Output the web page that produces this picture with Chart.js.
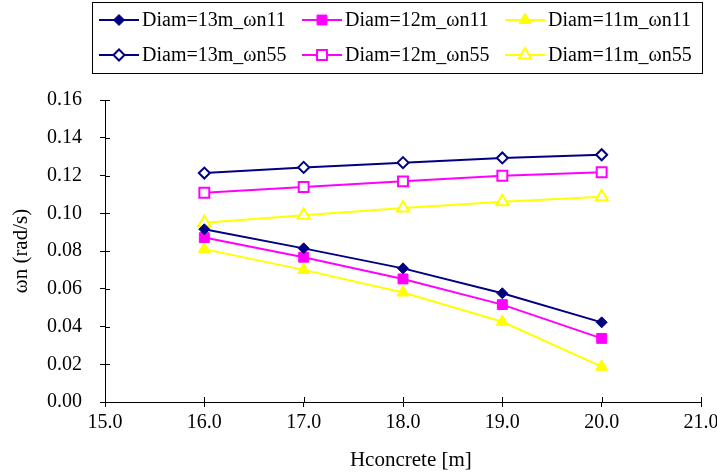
<!DOCTYPE html>
<html>
<head>
<meta charset="utf-8">
<title>ωn vs Hconcrete</title>
<script src="https://cdn.jsdelivr.net/npm/chart.js@4/dist/chart.umd.min.js"></script>
<style>
  html, body { margin: 0; padding: 0; background: #fff; }
  #wrap { width: 717px; height: 476px; }
</style>
</head>
<body>
<div id="wrap"><canvas id="chart" width="717" height="476"></canvas></div>
<script>
// --- Data ---
const heights = [16, 17, 18, 19, 20];
const d13_w11 = [0.0915, 0.0814, 0.0708, 0.0576, 0.0422];
const d12_w11 = [0.0871, 0.0767, 0.0652, 0.0516, 0.0337];
const d11_w11 = [0.0810, 0.0700, 0.0580, 0.0425, 0.0187];
const d13_w55 = [0.1213, 0.1243, 0.1268, 0.1293, 0.1310];
const d12_w55 = [0.1109, 0.1139, 0.1169, 0.1199, 0.1217];
const d11_w55 = [0.0950, 0.0990, 0.1028, 0.1061, 0.1088];

const xTicks = [15, 16, 17, 18, 19, 20, 21];
const yTicks = [0, 0.02, 0.04, 0.06, 0.08, 0.10, 0.12, 0.14, 0.16];

const NAVY = '#000080';
const MAGENTA = '#ff00ff';
const YELLOW = '#ffff00';
const SERIF = '"Liberation Serif", "Times New Roman", serif';

function series(label, values, color, style, radius, hollow) {
    return {
        label: label,
        data: heights.map((h, i) => ({ x: h, y: values[i] })),
        borderColor: color,
        borderWidth: 2,
        pointStyle: style,
        pointRadius: radius,
        pointHoverRadius: radius,
        pointBorderColor: color,
        pointBackgroundColor: hollow ? '#ffffff' : color,
        pointBorderWidth: hollow ? 2 : 1,
        tension: 0
    };
}

// --- Plugins ---
// cross-style tick marks: Chart.js draws the outer half, this adds the inner half
const innerTicks = {
    id: 'innerTicks',
    beforeDatasetsDraw(chart) {
        const { ctx, chartArea, scales } = chart;
        ctx.save();
        ctx.strokeStyle = '#000';
        ctx.lineWidth = 1;
        ctx.beginPath();
        scales.x.ticks.forEach((t, i) => {
            const px = Math.round(scales.x.getPixelForTick(i)) + 0.5;
            ctx.moveTo(px, chartArea.bottom);
            ctx.lineTo(px, chartArea.bottom - 5);
        });
        scales.y.ticks.forEach((t, i) => {
            const py = Math.round(scales.y.getPixelForTick(i)) + 0.5;
            ctx.moveTo(chartArea.left, py);
            ctx.lineTo(chartArea.left + 5, py);
        });
        ctx.stroke();
        ctx.restore();
    }
};

// boxed legend, 3 columns x 2 rows
const boxLegend = {
    id: 'boxLegend',
    afterDraw(chart) {
        const ctx = chart.ctx;
        ctx.save();
        ctx.strokeStyle = '#000';
        ctx.lineWidth = 1;
        ctx.strokeRect(92.5, 2.5, 610, 71);
        ctx.font = '20px ' + SERIF;
        ctx.textBaseline = 'middle';
        chart.data.datasets.forEach((ds, i) => {
            const x = 99 + (i % 3) * 203;
            const y = 20 + Math.floor(i / 3) * 35;
            ctx.strokeStyle = ds.borderColor;
            ctx.lineWidth = ds.borderWidth;
            ctx.beginPath();
            ctx.moveTo(x, y);
            ctx.lineTo(x + 40, y);
            ctx.stroke();
            ctx.fillStyle = ds.pointBackgroundColor;
            ctx.strokeStyle = ds.pointBorderColor;
            ctx.lineWidth = ds.pointBorderWidth;
            Chart.helpers.drawPoint(ctx, {
                pointStyle: ds.pointStyle,
                radius: ds.pointRadius,
                borderWidth: ds.pointBorderWidth,
                rotation: 0
            }, x + 20, y);
            ctx.fillStyle = '#000';
            ctx.fillText(ds.label, x + 43, y + 1);
        });
        ctx.restore();
    }
};

// --- Chart ---
new Chart(document.getElementById('chart'), {
    type: 'line',
    data: {
        datasets: [
            series('Diam=13m_ωn11', d13_w11, NAVY, 'rectRot', 5.5, false),
            series('Diam=12m_ωn11', d12_w11, MAGENTA, 'rect', 7, false),
            series('Diam=11m_ωn11', d11_w11, YELLOW, 'triangle', 7, false),
            series('Diam=13m_ωn55', d13_w55, NAVY, 'rectRot', 5.5, true),
            series('Diam=12m_ωn55', d12_w55, MAGENTA, 'rect', 7, true),
            series('Diam=11m_ωn55', d11_w55, YELLOW, 'triangle', 7, true)
        ]
    },
    options: {
        responsive: false,
        animation: false,
        layout: { padding: { top: 100, right: 16, bottom: 0, left: 0 } },
        plugins: {
            legend: { display: false },
            tooltip: { enabled: false }
        },
        scales: {
            x: {
                type: 'linear',
                min: 15,
                max: 21,
                afterBuildTicks: s => { s.ticks = xTicks.map(v => ({ value: v })); },
                afterFit: s => { s.height = 74; s.paddingLeft = 0; s.paddingRight = 0; },
                ticks: {
                    color: '#000',
                    font: { family: SERIF, size: 20 },
                    padding: 4,
                    maxRotation: 0,
                    callback: v => v.toFixed(1)
                },
                grid: { drawOnChartArea: false, tickLength: 5, color: '#000' },
                border: { color: '#000', width: 1 },
                title: {
                    display: true,
                    text: '\u2002 Hconcrete [m]',
                    color: '#000',
                    font: { family: SERIF, size: 21 },
                    padding: { top: 0, bottom: 3 }
                }
            },
            y: {
                min: 0,
                max: 0.16,
                afterBuildTicks: s => { s.ticks = yTicks.map(v => ({ value: v })); },
                afterFit: s => { s.width = 105; },
                ticks: {
                    color: '#000',
                    font: { family: SERIF, size: 20 },
                    padding: 18,
                    callback: v => v.toFixed(2)
                },
                grid: { drawOnChartArea: false, tickLength: 5, color: '#000' },
                border: { color: '#000', width: 1 },
                title: {
                    display: true,
                    text: 'ωn (rad/s)',
                    color: '#000',
                    font: { family: SERIF, size: 21 },
                    padding: { top: 9, bottom: 0 }
                }
            }
        }
    },
    plugins: [innerTicks, boxLegend]
});
</script>
</body>
</html>
